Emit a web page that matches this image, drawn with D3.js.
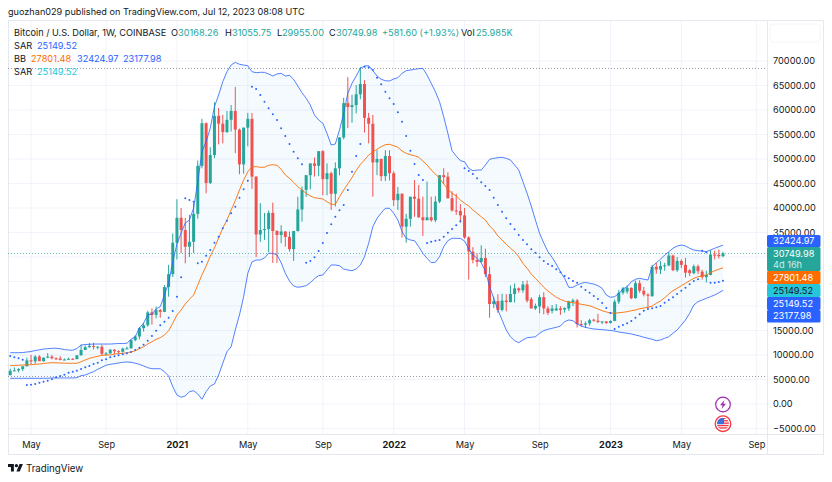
<!DOCTYPE html>
<html>
<head>
<meta charset="utf-8">
<script src="https://cdn.jsdelivr.net/npm/d3@7"></script>
<style>
  body { margin: 0; background: #fff; }
  text { font-family: Inter, "Noto Sans", sans-serif; fill: #131722; }
  .axis path, .axis line { display: none; }
  .axis text { font-family: Inter, "Noto Sans", sans-serif; font-size: 9.2px; fill: #131722; }
</style>
</head>
<body>
<svg id="chart" width="832" height="482"></svg>
<script>
// weekly candles, one entry per week starting 2020-03-30
var opens = [5880,6775,6860,7120,7700,8900,8720,9680,8730,9450,
  9670,9330,9300,9000,9070,9230,9160,9930,11030,11590,
  11850,11660,11680,10250,10320,11080,10780,10670,11300,11360,
  13030,13770,15480,16080,18700,18180,19170,18800,23860,26500,
  32900,38000,35500,32100,33100,38800,48600,57300,45100,50800,
  58800,57200,55500,58000,59800,56000,48900,56400,58200,46400,
  34600,35500,35700,39000,35300,34500,35200,34100,31600,35300,
  39700,43700,46700,49100,48600,51600,45900,47100,42900,48100,
  54400,61400,60600,61000,63200,65300,58400,57200,49300,50000,
  46500,50600,47100,41600,42900,36200,37800,42300,41900,38100,
  37500,38100,37500,41300,46700,46400,42000,39500,39400,38500,
  34000,31100,29400,29000,29800,26500,20400,21000,19200,21100,
  20800,22450,23600,23200,24400,21400,19500,19900,21800,19500,
  19000,19100,19500,19300,19500,20800,21150,16300,16200,16450,
  17200,17000,16750,16850,16550,16950,20880,22700,22950,23700,
  21600,24650,23100,22350,22000,28000,27450,28170,28300,30300,
  27300,29200,28400,27300,26700,28100,27000,25900,26350,30500,
  30450,30168.26];
var highs = [7200,7470,7290,7730,9460,10030,9950,9950,9500,10400,
  10000,9550,9750,9300,9450,9350,9960,12100,11950,12450,
  12500,11800,12100,10600,11180,11180,10950,11480,11700,13230,
  14000,15700,16500,19000,19500,19900,19400,24300,28400,34800,
  41800,40000,38000,38600,41000,49700,58200,57500,52400,61600,
  60400,59000,59800,61000,64700,56200,56400,59400,59400,46500,
  41000,39000,39500,41100,35500,36500,35300,35200,35300,42300,
  44400,46700,49100,50300,51600,51800,49100,47400,49300,54400,
  62500,66700,63100,65100,68800,66100,59400,59000,51800,50100,
  51800,51800,47500,44300,43000,38800,42300,45700,44700,42300,
  45400,42300,42400,46700,48100,47300,43400,42900,40800,40000,
  34200,32000,30700,32400,31700,28000,21900,22400,22500,22400,
  24200,24600,23800,25100,25200,21800,20500,22300,22800,19950,
  20200,20400,19950,19700,21050,21500,21450,17100,16800,17400,
  17400,18400,16900,16900,17050,21300,23300,23900,24200,23800,
  25200,25250,23900,22600,28400,28800,29150,28800,31000,30500,
  30000,29500,29800,27500,28450,28450,27400,27200,31400,31300,
  31500,31055.75];
var lows = [5850,6750,6460,6750,7650,8160,8200,8800,8650,9350,
  9100,9000,8900,8950,9050,9000,9130,9880,11000,11500,
  11120,11150,9900,9850,10250,10150,10400,10520,11200,11350,
  12800,13200,14800,15800,16200,17500,17600,18750,21900,25900,
  29500,30800,28700,30000,30800,37800,48100,43000,44900,50200,
  53000,53200,55300,55600,51200,46900,47000,52600,43900,30000,
  33100,33500,31000,28800,28800,32800,32100,31100,29200,35200,
  37200,42300,43800,46400,46500,42600,42600,39600,40300,46700,
  54000,56300,57400,59300,62200,55400,53200,42300,46700,45500,
  45500,45600,40400,39600,34000,32900,36200,38200,38000,34300,
  37500,37200,37100,41000,44900,41900,39250,38600,37000,33700,
  25400,28700,28000,28900,25900,17600,19600,18600,18900,18900,
  20700,20700,22700,22700,20700,19500,19200,18500,18300,18150,
  18500,19000,18200,18650,19000,20000,15600,15800,15500,16000,
  16800,16500,16300,16300,16400,16900,20400,22300,22500,21400,
  21500,22700,21950,19600,21900,26600,26500,27200,28100,27100,
  26950,27700,25800,26100,26500,26500,25400,24800,26250,29500,
  29700,29955];
var closes = [6775,6860,7120,7700,8900,8720,9680,8730,9450,9670,
  9330,9300,9000,9070,9230,9160,9930,11030,11590,11850,
  11660,11680,10250,10320,11080,10780,10670,11300,11360,13030,
  13770,15480,16080,18700,18180,19170,18800,23860,26500,32900,
  38000,35500,32100,33100,38800,48600,57300,45100,50800,58800,
  57200,55500,58000,59800,56000,48900,56400,58200,46400,34600,
  35500,35700,39000,35300,34500,35200,34100,31600,35300,39700,
  43700,46700,49100,48600,51600,45900,47100,42900,48100,54400,
  61400,60600,61000,63200,65300,58400,57200,49300,50000,46500,
  50600,47100,41600,42900,36200,37800,42300,41900,38100,37500,
  38100,37500,41300,46700,46300,42000,39500,39400,38500,34000,
  31100,29400,29000,29800,26500,20400,21000,19200,21100,20800,
  22450,23600,23200,24400,21100,19500,20000,21800,19500,18600,
  19500,19500,19200,19600,20900,21150,16300,16200,16450,17100,
  17000,16750,16850,16550,16950,20880,22700,23600,23700,21600,
  24650,23100,22350,22100,28000,27450,28170,28300,30300,27300,
  29200,28400,26800,26700,28100,27100,25900,26350,30500,30450,
  30170,30749.98];

// bollinger bands
var bbUpper = [10470,10470,10470,10510,10610,10710,10920,11060,11220,11290,
  11370,11390,11270,11120,11020,10960,11330,12040,12140,12180,
  12240,12240,12240,12240,12240,12290,12350,12350,12390,13200,
  13730,15510,16530,18160,18370,19390,19860,22240,24690,29040,
  32650,34900,36940,37550,40000,45370,51490,53530,56330,60670,
  63060,65780,67820,69180,69730,69330,69180,69040,67820,67610,
  67690,67690,67350,66940,67350,67490,66940,67080,66260,64900,
  63530,62390,61020,58980,57960,57290,55240,52860,53060,55920,
  59330,63410,65450,66940,68510,68980,69040,68020,66940,66260,
  65980,65920,66330,66590,67490,68020,68160,68310,68430,68510,
  67140,65450,63730,61690,58630,55240,51690,50610,49650,49450,
  48100,47610,47750,47750,48780,49940,50140,50260,50350,50140,
  49800,48780,47750,45370,43000,40410,37550,34840,32860,31080,
  29940,28570,27000,25650,23820,23820,24290,24630,24840,24630,
  24490,24140,23610,22240,21780,21900,22550,23470,23940,24960,
  25450,25650,25450,25310,28020,28840,29530,30410,31080,31780,
  32240,32450,32240,31780,31430,31290,31220,31080,31430,31780,
  32100,32424.97];
var bbBasis = [7820,7860,7900,7960,8000,8020,8100,8160,8270,8370,
  8430,8410,8370,8330,8310,8310,8310,8630,8980,9330,
  9530,9730,9940,10000,10000,10200,10270,10350,10470,10610,
  10880,11290,11690,12240,12710,13200,13530,14080,14960,16470,
  18160,19180,20410,21370,22240,24290,26330,28160,30200,31840,
  33880,35920,37550,39590,41490,43670,45710,47410,48430,48430,
  48310,48310,48710,48840,48710,47900,46730,46060,45240,44350,
  43670,43000,42450,42100,41980,41840,41290,40750,40750,42310,
  43670,44940,46220,47650,48880,49800,50820,51430,51980,52510,
  52920,53000,52710,52390,51630,51160,50880,50670,50350,49590,
  48780,47750,46940,46060,44900,43820,43000,42450,41630,40960,
  40410,39590,38920,38220,37550,36330,35510,34290,33470,32590,
  31780,31080,30060,28710,27690,26530,25650,24750,23820,23060,
  22390,21780,21370,21020,20820,20670,20550,20350,20200,20060,
  19730,19390,19040,18780,18570,18510,18630,18710,18840,19040,
  19180,19450,19590,19730,20000,20550,21020,21690,22450,23120,
  23610,24140,24630,25160,25650,25980,26120,26330,26800,27200,
  27490,27801.48];
var bbLower = [5240,5240,5240,5240,5240,5240,5240,5240,5240,5240,
  5310,5310,5310,5310,5310,5310,5370,5780,5920,6270,
  6590,7080,7490,7900,8100,8220,8370,8510,8570,8510,
  8310,8100,7760,7410,7200,7200,7200,6590,5710,3530,
  1840,1370,1630,2510,2710,2040,960,2510,3670,4080,
  5920,8310,10670,11690,15100,18160,21900,26670,28980,29390,
  29390,29800,30750,30750,30410,28840,26670,25100,24080,23820,
  23940,24140,24750,25570,26180,26330,27350,28370,28370,28220,
  27550,27350,27200,27550,28370,30060,32800,36180,37900,38980,
  39940,39940,38920,37550,35160,33820,33470,33330,32100,30750,
  29730,28840,28920,30060,32100,33330,33820,33820,33770,33270,
  31630,30410,29730,28780,27140,23940,21570,19180,17140,15100,
  13730,12920,12510,13060,13530,13610,13730,14430,14960,15240,
  15450,15650,15920,16800,17140,17000,16330,15920,15650,15450,
  15310,15240,15160,15100,15000,14900,14690,14550,14430,14290,
  14080,13880,13610,13410,13200,12920,13060,13410,13730,14430,
  15100,16120,17140,18510,20200,20880,21220,21570,21900,22240,
  22710,23177.98];

// parabolic SAR dots
var sarValues = [9800,9530,9330,9040,3880,3940,4080,4350,4550,4760,
  5040,5450,5710,5980,6390,6590,6800,7140,7490,7760,
  8160,8430,8920,9120,9530,9730,9940,10140,10350,10610,
  11020,11490,12100,12920,13880,14960,16060,16800,17610,18980,
  21900,25860,41980,41630,41290,28710,29040,30260,31430,32920,
  34140,35860,37410,38920,40270,42100,43820,45570,64750,64290,
  63060,61690,60350,59120,57960,56260,54690,53060,51490,50140,
  48920,28840,29180,29940,31220,32860,34900,36670,38220,39530,
  40610,43670,47410,50610,53060,68810,68670,68160,66590,65240,
  63730,62390,61220,59530,57610,54690,51690,48980,46730,45710,
  32860,33120,33330,33470,34140,34960,35710,36470,37290,48100,
  47550,46940,46060,45240,44490,43670,42100,40610,39240,37900,
  36730,35650,34490,33470,32590,31570,30880,29940,29180,28570,
  28160,27490,26880,26120,25650,25100,24750,23940,23270,22710,
  22040,21430,20610,19590,18570,15310,15780,16120,16470,16940,
  17610,18310,19040,19390,19530,19730,20000,20670,21220,21780,
  22450,23120,23730,24430,25100,25450,31290,30960,24750,24750,
  24900,25149.52];

// reference levels and axis ticks
var lastPrice = 30749.98;
var highLevel = 68630;
var lowLevel = 5710;
var gridPrices = [70000,65000,60000,55000,50000,45000,40000,35000,30000,25000,20000,15000,10000,5000,0,-5000];
// 30000, 25000 and 20000 sit behind the price tags, so they get no label
var priceTicks = [70000,65000,60000,55000,50000,45000,40000,35000,15000,10000,5000,0,-5000];
var tickDates = ["2020-05-04","2020-09-07","2021-01-04","2021-05-03","2021-09-06","2022-01-03","2022-05-02","2022-09-05","2023-01-02","2023-05-01","2023-09-04"];
var tickLabels = ["May","Sep","2021","May","Sep","2022","May","Sep","2023","May","Sep"];

// price tags on the right axis
var badgeLabels = ["32424.97","30749.98","27801.48","25149.52","25149.52","23177.98"];
var badgeHeights = [12,24,13,13,13,12.5];
var badgeColors = ["#2962ff","#26a69a","#ff6d00","#26c6da","#2962ff","#2962ff"];
var badgeText = ["#fff","#fff","#fff","#131722","#fff","#fff"];

var upColor = "#26a69a", downColor = "#ef5350", blue = "#2962ff", orange = "#ff6d00";
var gridColor = "#f0f3fa", frameColor = "#e6e8ef";

var svg = d3.select("#chart");
var plotLeft = 8, plotRight = 767, plotTop = 21, plotBottom = 434, outerRight = 823, outerBottom = 455;

var weeks = d3.utcMonday.range(new Date(Date.UTC(2020, 2, 30)), new Date(Date.UTC(2023, 6, 11)));

var x = d3.scaleUtc().domain([weeks[0], weeks[weeks.length - 1]]).range([10.2, 723]);
var y = d3.scaleLinear().domain([0, 70000]).range([404, 61]);
var ticksX = tickDates.map(function(d) { return new Date(d + "T00:00:00Z"); });

svg.append("defs").append("clipPath").attr("id", "plot")
  .append("rect").attr("x", plotLeft).attr("y", plotTop).attr("width", plotRight - plotLeft).attr("height", plotBottom - plotTop);

// grid
svg.append("g").selectAll("line").data(gridPrices).join("line")
  .attr("x1", plotLeft).attr("x2", plotRight)
  .attr("y1", function(d) { return y(d); }).attr("y2", function(d) { return y(d); })
  .attr("stroke", gridColor);
svg.append("g").selectAll("line").data(ticksX).join("line")
  .attr("x1", function(d) { return x(d); }).attr("x2", function(d) { return x(d); })
  .attr("y1", plotTop).attr("y2", plotBottom)
  .attr("stroke", gridColor);

// frame
svg.append("rect").attr("x", plotLeft + 0.5).attr("y", plotTop - 0.5).attr("width", outerRight - plotLeft).attr("height", outerBottom - plotTop)
  .attr("fill", "none").attr("stroke", frameColor);
svg.append("line").attr("x1", plotLeft).attr("x2", outerRight).attr("y1", plotBottom + 0.5).attr("y2", plotBottom + 0.5).attr("stroke", frameColor);
svg.append("line").attr("x1", plotRight + 0.5).attr("x2", plotRight + 0.5).attr("y1", plotTop).attr("y2", outerBottom).attr("stroke", frameColor);
svg.append("rect").attr("x", 770).attr("y", 24).attr("width", 50).attr("height", 18).attr("rx", 3)
  .attr("fill", "none").attr("stroke", "#f4f5f8");

var plot = svg.append("g").attr("clip-path", "url(#plot)");

// band fill and lines
var band = d3.area()
  .x(function(d, i) { return x(weeks[i]); })
  .y0(function(d, i) { return y(bbLower[i]); })
  .y1(function(d) { return y(d); });
plot.append("path").datum(bbUpper).attr("d", band).attr("fill", "#2196f3").attr("fill-opacity", 0.05);

var line = d3.line().x(function(d, i) { return x(weeks[i]); }).y(function(d) { return y(d); });

// high, low and last price levels
[highLevel, lowLevel].forEach(function(v) {
  plot.append("line").attr("x1", plotLeft).attr("x2", plotRight).attr("y1", Math.round(y(v)) + 0.5).attr("y2", Math.round(y(v)) + 0.5)
    .attr("stroke", "#787b86").attr("stroke-opacity", 0.75).attr("stroke-dasharray", "1 2");
});
plot.append("line").attr("x1", plotLeft).attr("x2", plotRight).attr("y1", Math.round(y(lastPrice)) + 0.5).attr("y2", Math.round(y(lastPrice)) + 0.5)
  .attr("stroke", upColor).attr("stroke-opacity", 0.7).attr("stroke-dasharray", "1 2");

// candles
var candles = plot.append("g").selectAll("g").data(weeks).join("g");
candles.append("line")
  .attr("x1", function(d) { return x(d); }).attr("x2", function(d) { return x(d); })
  .attr("y1", function(d, i) { return y(highs[i]); }).attr("y2", function(d, i) { return y(lows[i]); })
  .attr("stroke", function(d, i) { return closes[i] >= opens[i] ? upColor : downColor; });
candles.append("rect")
  .attr("x", function(d) { return x(d) - 1.5; }).attr("width", 3)
  .attr("y", function(d, i) { return y(Math.max(opens[i], closes[i])); })
  .attr("height", function(d, i) { return Math.max(1, Math.abs(y(opens[i]) - y(closes[i]))); })
  .attr("fill", function(d, i) { return closes[i] >= opens[i] ? upColor : downColor; });

plot.append("path").datum(bbUpper).attr("d", line).attr("fill", "none").attr("stroke", blue).attr("stroke-opacity", 0.8);
plot.append("path").datum(bbLower).attr("d", line).attr("fill", "none").attr("stroke", blue).attr("stroke-opacity", 0.8);
plot.append("path").datum(bbBasis).attr("d", line).attr("fill", "none").attr("stroke", orange).attr("stroke-opacity", 0.9);

plot.append("g").selectAll("circle").data(sarValues).join("circle")
  .attr("cx", function(d, i) { return x(weeks[i]); })
  .attr("cy", function(d) { return y(d); })
  .attr("r", 1)
  .attr("fill", blue);

// axes
svg.append("g").attr("class", "axis").attr("transform", "translate(" + plotRight + ",0)")
  .call(d3.axisRight(y).tickValues(priceTicks).tickFormat(d3.format(".2f")).tickSize(0).tickPadding(6));
var xAxis = svg.append("g").attr("class", "axis").attr("transform", "translate(0," + plotBottom + ")")
  .call(d3.axisBottom(x).tickValues(ticksX).tickFormat(function(d, i) { return tickLabels[i]; }).tickSize(0).tickPadding(7));
xAxis.selectAll("text").style("font-weight", function(d, i) { return tickLabels[i].length == 4 ? 700 : 400; });

// price tags
var badgeY = 235;
badgeLabels.forEach(function(label, i) {
  svg.append("rect").attr("x", plotRight).attr("y", badgeY).attr("width", 53.5).attr("height", badgeHeights[i]).attr("rx", 1.5).attr("fill", badgeColors[i]);
  svg.append("text").attr("x", 773).attr("y", i == 1 ? badgeY + 6.5 : badgeY + badgeHeights[i] / 2).attr("dy", "0.35em").attr("font-size", 9.2).style("fill", badgeText[i]).text(label);
  if (i == 1) {
    svg.append("text").attr("x", 773).attr("y", badgeY + 18).attr("dy", "0.35em").attr("font-size", 9.2).style("fill", "#d4ede9").text("4d 16h");
  }
  badgeY += badgeHeights[i];
});

// legend text: [string, x, y, colour]
var green = "#26a69a";
var legendRows = [
  ["Bitcoin / U.S. Dollar, 1W, COINBASE", 14, 32.5, "#131722"],
  ["O", 171, 32.5, "#131722"], ["30168.26", 178, 32.5, green],
  ["H", 225, 32.5, "#131722"], ["31055.75", 232, 32.5, green],
  ["L", 277, 32.5, "#131722"], ["29955.00", 282, 32.5, green],
  ["C", 329, 32.5, "#131722"], ["30749.98", 336, 32.5, green],
  ["+581.60 (+1.93%)", 382, 32.5, green],
  ["Vol", 461, 32.5, "#131722"], ["25.985K", 476, 32.5, green],
  ["SAR", 14, 45.5, "#131722"], ["25149.52", 37, 45.5, blue],
  ["BB", 14, 58.5, "#131722"], ["27801.48", 31, 58.5, orange], ["32424.97", 77, 58.5, blue], ["23177.98", 123, 58.5, blue],
  ["SAR", 14, 71.5, "#131722"], ["25149.52", 37, 71.5, "#26c6da"]
];
svg.append("g").selectAll("text").data(legendRows).join("text")
  .attr("x", function(d) { return d[1]; })
  .attr("y", function(d) { return d[2]; })
  .attr("dy", "0.35em")
  .attr("font-size", 9.2)
  .style("fill", function(d) { return d[3]; })
  .text(function(d) { return d[0]; });

svg.append("text").attr("x", 8).attr("y", 12).attr("dy", "0.35em").attr("font-size", 9.15)
  .text("guozhan029 published on TradingView.com, Jul 12, 2023 08:08 UTC");

// TradingView mark and name
svg.append("path").attr("transform", "translate(8,462.3) scale(0.42)")
  .attr("d", "M14 22H7V11H0V4h14v18zM28 22h-8l7.5-18h8L28 22z").attr("fill", "#131722");
svg.append("circle").attr("transform", "translate(8,462.3) scale(0.42)").attr("cx", 20).attr("cy", 8).attr("r", 4).attr("fill", "#131722");
svg.append("text").attr("x", 26).attr("y", 468.5).attr("dy", "0.35em").attr("font-size", 9.7).text("TradingView");

// event icons
var bolt = svg.append("g").attr("transform", "translate(723,404.5)");
bolt.append("circle").attr("r", 7.3).attr("fill", "#fff").attr("stroke", "#9c27b0").attr("stroke-width", 1.2);
bolt.append("path").attr("d", "M1.5 -4.5L-3 0.8H-0.3L-1.5 4.5L3 -0.8H0.3z").attr("fill", "#9c27b0");

var flag = svg.append("g").attr("transform", "translate(723,423.7)");
flag.append("circle").attr("r", 7.8).attr("fill", "#fff").attr("stroke", "#f23645").attr("stroke-width", 1.3);
flag.append("clipPath").attr("id", "flagClip").append("circle").attr("r", 6);
var flagBody = flag.append("g").attr("clip-path", "url(#flagClip)");
d3.range(-6, 6, 2.4).forEach(function(v, i) {
  flagBody.append("rect").attr("x", -7).attr("y", v).attr("width", 14).attr("height", 1.3).attr("fill", "#f23645");
});
flagBody.append("rect").attr("x", -6).attr("y", -6).attr("width", 7).attr("height", 6.5).attr("fill", "#3f6fd8");
</script>
</body>
</html>
